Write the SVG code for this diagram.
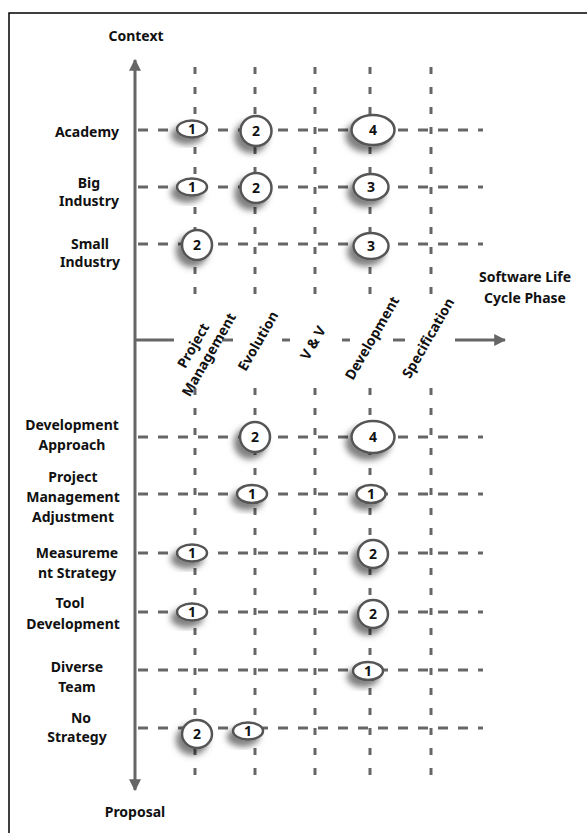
<svg xmlns="http://www.w3.org/2000/svg" width="587" height="833" viewBox="0 0 587 833">
<defs>
<style>
.lbl{font-family:"Noto Sans","Open Sans",sans-serif;font-weight:bold;font-size:14px;fill:#111;text-anchor:middle}
.num{font-family:"Noto Sans","Open Sans",sans-serif;font-weight:bold;font-size:14px;fill:#111;text-anchor:middle}
.grid{stroke:#666;stroke-width:3;fill:none}
.v{stroke-dasharray:7 13}
.h{stroke-dasharray:10 10}
.axis{stroke:#666;stroke-width:3;fill:none}
.bub{fill:#fff;stroke:#555;stroke-width:2.5;filter:url(#sh)}
</style>
<filter id="sh" x="-60%" y="-60%" width="220%" height="220%">
<feDropShadow dx="-5" dy="6" stdDeviation="3" flood-color="#000" flood-opacity="0.5"/>
</filter>
<marker id="ah" viewBox="0 0 10 10" refX="9" refY="5" markerWidth="4" markerHeight="4" orient="auto-start-reverse" markerUnits="strokeWidth">
<path d="M0,0 L10,5 L0,10 Z" fill="#666"/>
</marker>
</defs>
<rect width="587" height="833" fill="#fff"/>
<path d="M9,833 V13 H587" fill="none" stroke="#000" stroke-width="1.5"/>

<g id="connectors">
<g id="grid-vertical" class="grid v">
<line x1="195" y1="67" x2="195" y2="295"/><line x1="195" y1="388" x2="195" y2="787"/>
<line x1="255" y1="67" x2="255" y2="295"/><line x1="255" y1="388" x2="255" y2="787"/>
<line x1="315" y1="67" x2="315" y2="295"/><line x1="315" y1="388" x2="315" y2="787"/>
<line x1="370" y1="67" x2="370" y2="295"/><line x1="370" y1="388" x2="370" y2="787"/>
<line x1="431" y1="67" x2="431" y2="295"/><line x1="431" y1="388" x2="431" y2="787"/>
</g>
<g id="grid-horizontal" class="grid h">
<line x1="138" y1="130" x2="483" y2="130"/>
<line x1="138" y1="187" x2="483" y2="187"/>
<line x1="138" y1="244" x2="483" y2="244"/>
<line x1="138" y1="437" x2="483" y2="437"/>
<line x1="138" y1="494" x2="483" y2="494"/>
<line x1="138" y1="553" x2="483" y2="553"/>
<line x1="138" y1="612" x2="483" y2="612"/>
<line x1="138" y1="670" x2="483" y2="670"/>
<line x1="138" y1="728" x2="483" y2="728"/>
</g>
<g id="axes" class="axis">
<line x1="135" y1="424" x2="135" y2="60" marker-end="url(#ah)"/>
<line x1="135" y1="424" x2="135" y2="790" marker-end="url(#ah)"/>
<line x1="134" y1="340" x2="174" y2="340"/>
<line x1="222" y1="340" x2="233" y2="340"/>
<line x1="282" y1="340" x2="290" y2="340"/>
<line x1="342" y1="340" x2="350" y2="340"/>
<line x1="393" y1="340" x2="405" y2="340"/>
<line x1="455" y1="340" x2="505" y2="340" marker-end="url(#ah)"/>
</g>
</g>

<g id="axis-labels">
<text class="lbl" x="136" y="41">Context</text>
<text class="lbl" x="135" y="817">Proposal</text>
<text class="lbl" x="525" y="282">Software Life</text>
<text class="lbl" x="525" y="303">Cycle Phase</text>
</g>

<g id="phases">
<g id="phase-pm"><text class="lbl" transform="translate(201,350) rotate(-60)"><tspan x="0" y="-4">Project</tspan><tspan x="0" y="14">Management</tspan></text></g>
<g id="phase-evolution"><text class="lbl" transform="translate(258,341) rotate(-60)" x="0" y="5">Evolution</text></g>
<g id="phase-vv"><text class="lbl" transform="translate(313,343) rotate(-60)" x="0" y="5">V &amp; V</text></g>
<g id="phase-development"><text class="lbl" transform="translate(372,338) rotate(-60)" x="0" y="5">Development</text></g>
<g id="phase-specification"><text class="lbl" transform="translate(428,338) rotate(-60)" x="0" y="5">Specification</text></g>
</g>

<g id="contexts">
<g id="row-academy"><text class="lbl" x="87" y="137">Academy</text></g>
<g id="row-big-industry"><text class="lbl" x="89" y="188">Big</text><text class="lbl" x="89" y="206">Industry</text></g>
<g id="row-small-industry"><text class="lbl" x="90" y="249">Small</text><text class="lbl" x="90" y="267">Industry</text></g>
<g id="row-dev-approach"><text class="lbl" x="72" y="430">Development</text><text class="lbl" x="72" y="450">Approach</text></g>
<g id="row-pm-adjust"><text class="lbl" x="73" y="482">Project</text><text class="lbl" x="73" y="502">Management</text><text class="lbl" x="73" y="522">Adjustment</text></g>
<g id="row-measurement"><text class="lbl" x="77" y="558">Measureme</text><text class="lbl" x="77" y="578">nt Strategy</text></g>
<g id="row-tool"><text class="lbl" x="70" y="608">Tool</text><text class="lbl" x="73" y="629">Development</text></g>
<g id="row-diverse"><text class="lbl" x="77" y="672">Diverse</text><text class="lbl" x="77" y="692">Team</text></g>
<g id="row-nostrategy"><text class="lbl" x="81" y="723">No</text><text class="lbl" x="77" y="742">Strategy</text></g>
</g>

<g id="bubbles">
<g id="b-ac-pm"><ellipse class="bub" cx="192" cy="129" rx="15" ry="8.5"/><text class="num" x="192" y="134">1</text></g>
<g id="b-ac-ev"><ellipse class="bub" cx="256" cy="131" rx="15.5" ry="15"/><text class="num" x="256" y="136">2</text></g>
<g id="b-ac-dev"><ellipse class="bub" cx="373" cy="130" rx="21.5" ry="15"/><text class="num" x="373" y="135">4</text></g>
<g id="b-bi-pm"><ellipse class="bub" cx="192" cy="187" rx="15" ry="8.5"/><text class="num" x="192" y="192">1</text></g>
<g id="b-bi-ev"><ellipse class="bub" cx="256" cy="188" rx="15.5" ry="15"/><text class="num" x="256" y="193">2</text></g>
<g id="b-bi-dev"><ellipse class="bub" cx="371" cy="187" rx="17.5" ry="13"/><text class="num" x="371" y="192">3</text></g>
<g id="b-si-pm"><ellipse class="bub" cx="197" cy="245" rx="15" ry="15"/><text class="num" x="197" y="250">2</text></g>
<g id="b-si-dev"><ellipse class="bub" cx="371" cy="246" rx="17.5" ry="13"/><text class="num" x="371" y="251">3</text></g>
<g id="b-da-ev"><ellipse class="bub" cx="255" cy="437" rx="15" ry="15"/><text class="num" x="255" y="442">2</text></g>
<g id="b-da-dev"><ellipse class="bub" cx="373" cy="437" rx="21.5" ry="16"/><text class="num" x="373" y="442">4</text></g>
<g id="b-pma-ev"><ellipse class="bub" cx="252" cy="494" rx="15" ry="9"/><text class="num" x="252" y="499">1</text></g>
<g id="b-pma-dev"><ellipse class="bub" cx="371" cy="494" rx="14.5" ry="9"/><text class="num" x="371" y="499">1</text></g>
<g id="b-ms-pm"><ellipse class="bub" cx="192" cy="553" rx="15" ry="8.5"/><text class="num" x="192" y="558">1</text></g>
<g id="b-ms-dev"><ellipse class="bub" cx="373" cy="554" rx="15" ry="14"/><text class="num" x="373" y="559">2</text></g>
<g id="b-td-pm"><ellipse class="bub" cx="192" cy="612" rx="15" ry="8.5"/><text class="num" x="192" y="617">1</text></g>
<g id="b-td-dev"><ellipse class="bub" cx="373" cy="614" rx="15" ry="14"/><text class="num" x="373" y="619">2</text></g>
<g id="b-dt-dev"><ellipse class="bub" cx="368" cy="671" rx="15" ry="9"/><text class="num" x="368" y="676">1</text></g>
<g id="b-ns-pm"><ellipse class="bub" cx="197" cy="734" rx="15" ry="14"/><text class="num" x="197" y="739">2</text></g>
<g id="b-ns-ev"><ellipse class="bub" cx="248" cy="731" rx="15" ry="8.5"/><text class="num" x="248" y="736">1</text></g>
</g>
</svg>
